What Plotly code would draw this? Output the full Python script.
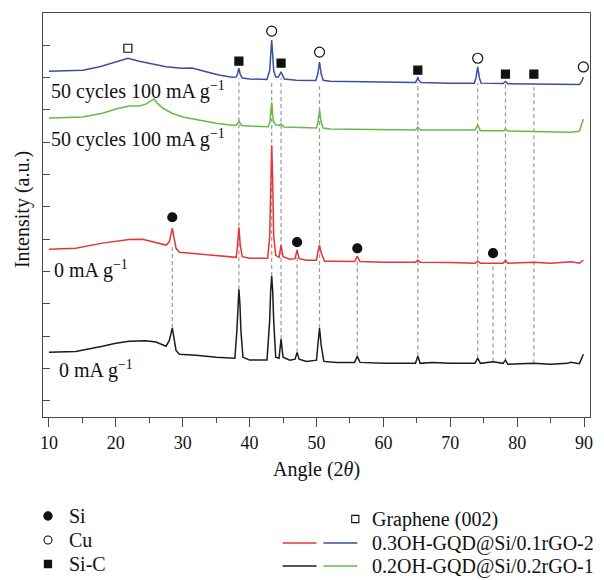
import plotly.graph_objects as go

# ---------------- data (angle 2θ, stacked intensity a.u.) ----------------
blue_pts = [(10.0,10.70),(12.0,10.71),(15.1,10.73),(17.6,10.84),(20.1,10.99),(21.8,11.10),(23.5,11.01),
            (25.5,10.92),(27.5,10.84),(29.9,10.79),(31.4,10.80),(33.5,10.68),(35.4,10.58),(37.4,10.51),
            (38.0,10.52),(38.2,10.62),(38.4,10.79),(38.6,10.60),(38.9,10.49),(40.0,10.46),(42.6,10.44),
            (43.0,10.72),(43.15,11.2),(43.3,11.66),(43.45,11.2),(43.6,10.72),(43.9,10.52),(44.3,10.52),
            (44.55,10.62),(44.7,10.68),(44.85,10.60),(45.2,10.46),(47.0,10.42),(49.9,10.41),(50.2,10.62),
            (50.45,10.98),(50.7,10.62),(51.0,10.42),(52.0,10.39),(56.0,10.38),(60.0,10.36),(64.8,10.35),
            (65.0,10.42),(65.15,10.52),(65.3,10.42),(65.6,10.35),(70.0,10.33),(73.6,10.33),(73.85,10.50),
            (74.1,10.83),(74.35,10.50),(74.6,10.33),(77.9,10.32),(78.25,10.38),(78.6,10.31),(82.5,10.30),
            (85.0,10.29),(88.0,10.27),(89.3,10.29),(89.7,10.40),(89.9,10.52)]

green_pts = [(10.0,9.25),(15.0,9.28),(18.0,9.40),(20.0,9.53),(22.0,9.62),(23.5,9.62),(24.5,9.68),(25.3,9.77),
             (25.7,9.84),(26.2,9.71),(27.0,9.56),(28.4,9.40),(30.0,9.28),(32.4,9.19),(35.0,9.09),(37.3,9.03),
             (38.0,9.03),(38.4,9.15),(38.8,9.02),(40.0,9.00),(42.8,8.98),(43.05,9.15),(43.3,9.74),(43.55,9.15),
             (43.9,9.04),(44.4,9.02),(44.7,9.07),(45.1,8.97),(48.0,8.94),(50.0,8.94),(50.25,9.15),(50.45,9.50),
             (50.7,9.12),(51.0,8.94),(52.0,8.91),(60.0,8.89),(64.8,8.88),(65.15,8.97),(65.5,8.88),(70.0,8.88),
             (73.7,8.88),(74.1,9.03),(74.5,8.86),(78.0,8.86),(78.25,8.91),(78.6,8.85),(85.0,8.82),(88.0,8.81),
             (89.3,8.84),(89.9,9.22)]

red_pts = [(10.0,5.19),(14.0,5.22),(18.0,5.38),(20.0,5.44),(22.0,5.49),(24.0,5.50),(26.0,5.41),(27.5,5.32),
           (28.0,5.42),(28.2,5.62),(28.44,5.84),(28.7,5.55),(29.0,5.22),(29.5,5.10),(31.0,5.07),(34.0,5.01),
           (37.0,4.96),(38.0,4.94),(38.2,5.32),(38.4,5.87),(38.6,5.32),(38.9,4.96),(40.0,4.91),(42.7,4.91),
           (43.0,5.60),(43.15,7.33),(43.3,8.41),(43.45,7.33),(43.6,5.60),(43.9,5.00),(44.4,4.94),(44.7,5.32),
           (45.0,4.96),(46.0,4.88),(46.8,4.90),(47.1,5.17),(47.4,4.90),(48.5,4.85),(50.0,4.85),(50.2,5.10),
           (50.45,5.32),(50.7,5.08),(51.2,4.82),(53.0,4.82),(55.7,4.81),(56.1,4.97),(56.5,4.81),(60.0,4.79),
           (64.8,4.79),(65.15,4.85),(65.5,4.79),(70.0,4.78),(73.7,4.76),(74.1,4.82),(74.5,4.76),(77.9,4.76),
           (78.25,4.85),(78.6,4.76),(82.5,4.79),(85.0,4.76),(87.5,4.78),(88.2,4.80),(89.3,4.76),(89.9,4.85)]

black_pts = [(10.0,2.00),(14.0,2.03),(18.0,2.19),(20.0,2.28),(22.0,2.34),(24.5,2.36),(26.0,2.32),(27.5,2.19),
             (28.0,2.37),(28.2,2.58),(28.44,2.75),(28.7,2.44),(29.0,2.06),(29.5,1.94),(32.0,1.91),(35.0,1.85),
             (37.8,1.82),(38.1,2.68),(38.25,3.5),(38.4,3.95),(38.55,3.5),(38.7,2.68),(39.0,1.85),(40.0,1.76),
             (42.6,1.76),(43.0,2.99),(43.15,3.9),(43.3,4.36),(43.45,3.9),(43.6,2.99),(43.9,1.85),(44.4,1.82),
             (44.7,2.41),(45.0,1.85),(46.0,1.76),(46.8,1.79),(47.1,2.00),(47.4,1.79),(48.5,1.72),(50.0,1.76),
             (50.2,2.22),(50.45,2.75),(50.7,2.22),(51.1,1.72),(53.0,1.69),(55.7,1.69),(56.1,1.88),(56.5,1.69),
             (60.0,1.66),(64.8,1.66),(65.15,1.88),(65.5,1.66),(67.3,1.69),(70.0,1.66),(73.7,1.66),(74.1,1.82),
             (74.5,1.66),(76.4,1.71),(77.9,1.66),(78.25,1.76),(78.6,1.63),(82.4,1.66),(85.0,1.63),(87.5,1.66),
             (88.0,1.69),(89.3,1.65),(89.9,1.94)]

# phase markers (angle, intensity)
si_pts = [(28.44, 6.18), (47.1, 5.41), (56.1, 5.22), (76.4, 5.07)]
cu_pts = [(43.3, 11.94), (50.45, 11.29), (74.1, 11.10), (89.9, 10.83)]
sic_pts = [(38.4, 11.01), (44.7, 10.95), (65.15, 10.73), (78.25, 10.61), (82.5, 10.61)]
graphene_pts = [(21.8, 11.41)]

# dashed reference lines (angle, top, bottom)
ref_lines = [(28.44, 5.25, 2.75), (38.4, 10.48, 3.95), (43.3, 10.42, 4.36), (44.7, 10.48, 2.41),
             (47.1, 5.19, 2.00), (50.45, 10.33, 2.75), (56.1, 4.97, 1.88), (65.15, 10.36, 1.88),
             (74.1, 10.33, 1.82), (76.4, 4.76, 1.72), (78.25, 10.33, 1.72), (82.5, 10.20, 1.66)]

# curve labels (angle, intensity, text)
curve_labels = [(10.0, 10.11, "50 cycles 100 mA g<sup>−1</sup>"),
                (10.0, 8.63, "50 cycles 100 mA g<sup>−1</sup>"),
                (10.45, 4.57, "0 mA g<sup>−1</sup>"),
                (11.2, 1.48, "0 mA g<sup>−1</sup>")]

x_ticks = [10, 20, 30, 40, 50, 60, 70, 80, 90]
x_minor = [15, 25, 35, 45, 55, 65, 75, 85]
y_ticks = [0.5 + k for k in range(12)]

BLUE = "#3b4ea3"
GREEN = "#66bb46"
RED = "#e5343a"
BLACK = "#1c1c1c"
SERIF = "Liberation Serif, DejaVu Serif, serif"
AX = "#4a4a4a"

# ---------------- layout geometry (pixels) ----------------
W, H = 604, 580
L, R, T, B = 43, 11, 13, 163
PW, PH = W - L - R, H - T - B


def px(x):
    return (x - L) / PW


def py(y):
    return (H - B - y) / PH


fig = go.Figure()

shapes = []
for a, top, bot in ref_lines:
    shapes.append(dict(type="line", xref="x", yref="y", x0=a, x1=a, y0=bot, y1=top,
                       line=dict(color="#9a9a9a", width=1.2, dash="4px,3px"), layer="below"))

for pts, col in [(black_pts, BLACK), (red_pts, RED), (green_pts, GREEN), (blue_pts, BLUE)]:
    fig.add_trace(go.Scatter(x=[p[0] for p in pts], y=[p[1] for p in pts], mode="lines",
                             line=dict(color=col, width=1.5), showlegend=False, hoverinfo="skip"))

for pts, sym, size in [(si_pts, "circle", 9), (cu_pts, "circle-open", 10),
                       (sic_pts, "square", 8), (graphene_pts, "square-open", 8)]:
    fig.add_trace(go.Scatter(x=[p[0] for p in pts], y=[p[1] for p in pts], mode="markers",
                             marker=dict(symbol=sym, size=size, color="#111111",
                                         line=dict(color="#111111", width=1.2)),
                             showlegend=False, hoverinfo="skip"))

annotations = []
for a, yv, txt in curve_labels:
    annotations.append(dict(x=a, y=yv, xref="x", yref="y", text=txt, showarrow=False,
                            xanchor="left", yanchor="middle",
                            font=dict(family=SERIF, size=20, color="#111111")))

# axis titles
annotations.append(dict(x=px(318), y=py(469), xref="paper", yref="paper", text="Angle (2<i>θ</i>)",
                        showarrow=False, xanchor="center", yanchor="middle",
                        font=dict(family=SERIF, size=20, color="#111111")))
annotations.append(dict(x=px(22), y=py(210), xref="paper", yref="paper", text="Intensity (a.u.)",
                        showarrow=False, textangle=-90, xanchor="center", yanchor="middle",
                        font=dict(family=SERIF, size=20, color="#111111")))

# custom legend
leg_font = dict(family=SERIF, size=20, color="#111111")


def circle(cx, cy, r, filled):
    return dict(type="circle", xref="paper", yref="paper", x0=px(cx - r), x1=px(cx + r),
                y0=py(cy + r), y1=py(cy - r), fillcolor="#111111" if filled else "white",
                line=dict(color="#111111", width=1.1))


def square(cx, cy, h, filled):
    return dict(type="rect", xref="paper", yref="paper", x0=px(cx - h), x1=px(cx + h),
                y0=py(cy + h), y1=py(cy - h), fillcolor="#111111" if filled else "white",
                line=dict(color="#111111", width=1.1))


def hline(x0, x1, yy, col):
    return dict(type="line", xref="paper", yref="paper", x0=px(x0), x1=px(x1), y0=py(yy), y1=py(yy),
                line=dict(color=col, width=1.5))


shapes += [circle(48, 516, 4.2, True), circle(48, 540, 4.0, False), square(48, 564, 3.6, True),
           square(357, 519, 3.6, False),
           hline(284, 318, 543, RED), hline(325, 359, 543, BLUE),
           hline(284, 318, 566, BLACK), hline(325, 359, 566, GREEN)]

for tx, ty, txt in [(67, 516, "Si"), (67, 540, "Cu"), (67, 564, "Si-C"),
                    (372, 519, "Graphene (002)"), (372, 543, "0.3OH-GQD@Si/0.1rGO-2"),
                    (372, 566, "0.2OH-GQD@Si/0.2rGO-1")]:
    annotations.append(dict(x=px(tx), y=py(ty), xref="paper", yref="paper", text=txt, showarrow=False,
                            xanchor="left", yanchor="middle", font=leg_font))

fig.update_layout(
    width=W, height=H, margin=dict(l=L, r=R, t=T, b=B),
    paper_bgcolor="white", plot_bgcolor="white",
    shapes=shapes, annotations=annotations, showlegend=False,
    xaxis=dict(range=[9.11, 90.89], tickvals=x_ticks, ticks="outside", ticklen=9, tickwidth=1.3,
               tickcolor=AX, showline=True, linecolor=AX, linewidth=1.3, mirror=True,
               showgrid=False, zeroline=False,
               tickfont=dict(family=SERIF, size=18, color="#111111"),
               minor=dict(tickvals=x_minor, ticks="outside", ticklen=5, tickwidth=1.2, tickcolor=AX)),
    yaxis=dict(range=[0, 12.5], tickvals=y_ticks, ticks="inside", ticklen=7, tickwidth=1.3,
               tickcolor=AX, showticklabels=False, showline=True, linecolor=AX, linewidth=1.3,
               mirror=True, showgrid=False, zeroline=False),
)

fig.write_html("out.html")
